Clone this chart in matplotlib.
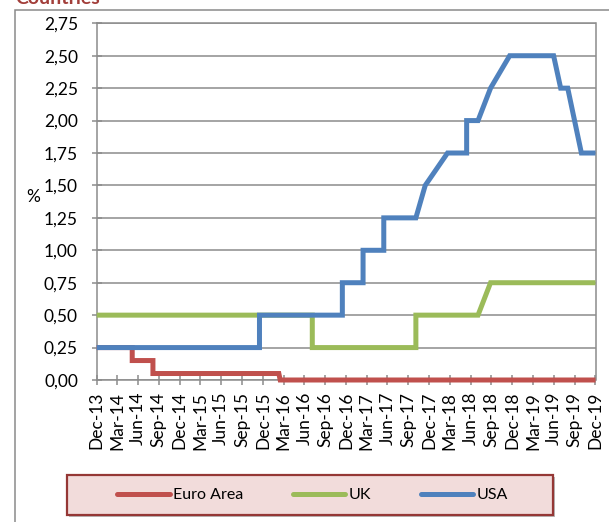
import matplotlib
matplotlib.use("Agg")
import matplotlib.pyplot as plt
from matplotlib.lines import Line2D
from matplotlib.patches import Rectangle
import pandas as pd

# ---------------- data ----------------
euro_dates = ['2013-12-31', '2014-06-05', '2014-06-05', '2014-09-04', '2014-09-04',
              '2016-03-10', '2016-03-16', '2019-12-31']
euro_vals = [0.25, 0.25, 0.15, 0.15, 0.05, 0.05, 0.00, 0.00]

uk_dates = ['2013-12-31', '2016-08-04', '2016-08-04', '2017-11-02', '2017-11-02',
            '2018-08-02', '2018-09-26', '2019-12-31']
uk_vals = [0.50, 0.50, 0.25, 0.25, 0.50, 0.50, 0.75, 0.75]

usa_dates = ['2013-12-31', '2015-12-16', '2015-12-16', '2016-12-14', '2016-12-14',
             '2017-03-15', '2017-03-15', '2017-06-14', '2017-06-14', '2017-11-02',
             '2017-12-13', '2018-03-21', '2018-06-13', '2018-06-13', '2018-08-02',
             '2018-09-26', '2018-12-19', '2019-06-30', '2019-07-31', '2019-08-31',
             '2019-10-30', '2019-12-31']
usa_vals = [0.25, 0.25, 0.50, 0.50, 0.75, 0.75, 1.00, 1.00, 1.25, 1.25,
            1.50, 1.75, 1.75, 2.00, 2.00, 2.25, 2.50, 2.50, 2.25, 2.25,
            1.75, 1.75]

series_names = ['Euro Area', 'UK', 'USA']

x_tick_labels = ['Dec-13', 'Mar-14', 'Jun-14', 'Sep-14', 'Dec-14', 'Mar-15', 'Jun-15',
                 'Sep-15', 'Dec-15', 'Mar-16', 'Jun-16', 'Sep-16', 'Dec-16', 'Mar-17',
                 'Jun-17', 'Sep-17', 'Dec-17', 'Mar-18', 'Jun-18', 'Sep-18', 'Dec-18',
                 'Mar-19', 'Jun-19', 'Sep-19', 'Dec-19']
y_ticks = [0.00, 0.25, 0.50, 0.75, 1.00, 1.25, 1.50, 1.75, 2.00, 2.25, 2.50, 2.75]
title_text = 'Countries'

# ---------------- style ----------------
FONT = ['Lato', 'DejaVu Sans']
plt.rcParams['font.family'] = FONT
colors = ['#C0504D', '#9BBB59', '#4F81BD']
grid_c = '#8C8C8C'

W, H = 609, 522
fig = plt.figure(figsize=(W / 100, H / 100), dpi=100)

# outer chart border (extends past the crop)
fig.patches.append(Rectangle((15 / W, -0.2), 1.5, 1.2 - 10 / H, transform=fig.transFigure,
                             fill=False, edgecolor='#8A8A8A', linewidth=1.1, zorder=0))

fig.text(15 / W, 1 - 4 / H, title_text, fontsize=14, fontweight='bold', color='#A23E3A',
         va='baseline', ha='left')

left, right, top, bottom = 96.7, 595.5, 23.3, 380
ax = fig.add_axes([left / W, 1 - bottom / H, (right - left) / W, (bottom - top) / H])

start = pd.Timestamp('2013-12-31')
tick_dates = [start + pd.offsets.MonthEnd(3 * i) for i in range(len(x_tick_labels))]

for dates, vals, c, name in zip([euro_dates, uk_dates, usa_dates],
                                [euro_vals, uk_vals, usa_vals], colors, series_names):
    ax.plot(pd.to_datetime(dates), vals, color=c, linewidth=3.6,
            solid_joinstyle='miter', solid_capstyle='butt', label=name, zorder=3,
            clip_on=False)

ax.set_xlim(tick_dates[0], tick_dates[-1])
ax.set_ylim(0, 2.75)
ax.set_xticks(tick_dates)
ax.set_xticklabels(x_tick_labels, rotation=90, fontsize=12.5)
ax.set_yticks(y_ticks)
ax.set_yticklabels([f'{v:.2f}'.replace('.', ',') for v in y_ticks], fontsize=12.5)
ax.tick_params(axis='both', direction='inout', length=7, width=1.1, color=grid_c)
ax.tick_params(axis='y', pad=10)
ax.tick_params(axis='x', pad=5)
ax.grid(axis='y', color=grid_c, linewidth=1.1, zorder=1)
ax.set_axisbelow(True)
for s in ax.spines.values():
    s.set_color(grid_c)
    s.set_linewidth(1.1)

ax.set_ylabel('%', rotation=0, fontsize=12.5, va='center', ha='center')
ax.yaxis.set_label_coords((33 - left) / (right - left), (bottom - 197) / (bottom - top))

# legend box
lx0, lx1, ly0, ly1 = 67, 553, 475, 515
fig.patches.append(Rectangle((lx0 / W + 0.003, 1 - ly1 / H - 0.004), (lx1 - lx0) / W,
                             (ly1 - ly0) / H, transform=fig.transFigure,
                             facecolor='#BBBBBB', edgecolor='none', zorder=1))
fig.patches.append(Rectangle((lx0 / W, 1 - ly1 / H), (lx1 - lx0) / W, (ly1 - ly0) / H,
                             transform=fig.transFigure, facecolor='#F2DCDB',
                             edgecolor='#953735', linewidth=1.6, zorder=2))
handles = [Line2D([0], [0], color=c, linewidth=3.6, solid_capstyle='round') for c in colors]
leg = fig.legend(handles, series_names, loc='center', ncol=3, frameon=False,
                 bbox_to_anchor=((lx0 + lx1) / 2 / W + 0.004, 1 - (ly0 + ly1) / 2 / H),
                 fontsize=11.5, handlelength=3.3, handletextpad=0.2, columnspacing=3.1)
leg.set_zorder(5)

fig.savefig('out.png', dpi=100)
